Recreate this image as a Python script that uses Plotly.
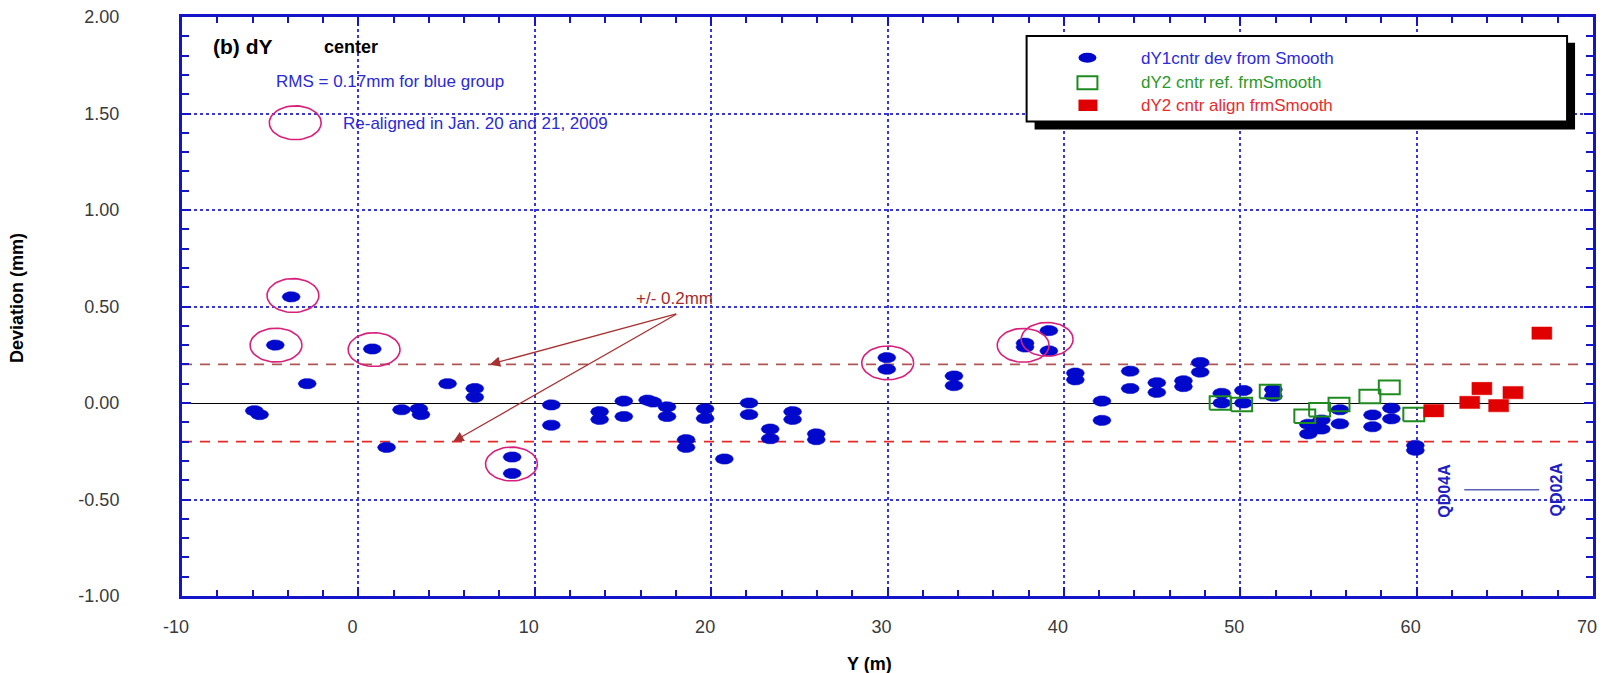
import numpy as np
import plotly.graph_objects as go

# ---------------- data ----------------
# dY1 centre deviation from the smooth curve (blue group)
blue_pos = [-5.9, -5.6, -4.71, -3.81, -2.9, 0.79, 1.6, 2.45, 3.43, 3.55, 5.06,
            6.6, 6.6, 8.72, 8.72, 10.94, 10.94, 13.68, 13.68, 15.05, 15.05,
            16.4, 16.7, 17.5, 17.5, 18.58, 18.58, 19.66, 19.66, 20.75,
            22.15, 22.15, 23.35, 23.35, 24.62, 24.62, 25.96, 25.96,
            29.96, 29.96, 33.77, 33.77, 37.8, 37.8, 39.15, 39.15,
            40.65, 40.65, 42.16, 42.16, 43.76, 43.76, 45.27, 45.27,
            46.78, 46.78, 47.73, 47.73, 48.95, 48.95, 50.18, 50.18,
            51.88, 51.88, 53.86, 53.86, 54.6, 54.6, 55.65, 55.65,
            57.5, 57.5, 58.57, 58.57, 59.93, 59.93]
blue_dev = [-0.04, -0.06, 0.30, 0.55, 0.10, 0.28, -0.23, -0.035, -0.03, -0.06, 0.10,
            0.075, 0.03, -0.28, -0.365, -0.01, -0.115, -0.045, -0.085, 0.01, -0.07,
            0.015, 0.005, -0.02, -0.07, -0.19, -0.23, -0.03, -0.08, -0.29,
            0.0, -0.06, -0.135, -0.185, -0.045, -0.085, -0.16, -0.19,
            0.235, 0.175, 0.14, 0.09, 0.31, 0.29, 0.375, 0.27,
            0.155, 0.12, 0.01, -0.09, 0.165, 0.075, 0.105, 0.055,
            0.115, 0.085, 0.21, 0.16, 0.05, 0.0, 0.065, 0.0,
            0.07, 0.035, -0.11, -0.16, -0.088, -0.135, -0.035, -0.108,
            -0.062, -0.123, -0.027, -0.082, -0.22, -0.245]

# dY2 centre, reference, from smooth
green_pos = [48.86, 50.08, 51.7, 53.66, 54.5, 55.6, 57.35, 58.45, 59.84]
green_dev = [0.0, -0.008, 0.06, -0.069, -0.035, -0.008, 0.034, 0.081, -0.06]

# dY2 centre, aligned, from smooth
red_pos = [60.97, 63.01, 63.7, 64.65, 65.46, 67.1]
red_dev = [-0.04, 0.003, 0.075, -0.014, 0.054, 0.362]

# magnets re-aligned in Jan. 20 and 21, 2009
realigned_pos = [-4.67, -3.71, 0.89, 8.68, 30.01, 37.69, 39.05]
realigned_dev = [0.30, 0.557, 0.277, -0.316, 0.208, 0.299, 0.33]

tolerance = 0.2
x_ticks = [-10, 0, 10, 20, 30, 40, 50, 60, 70]
x_tick_text = [str(v) for v in x_ticks]
y_ticks = [-1.0, -0.5, 0.0, 0.5, 1.0, 1.5, 2.0]
y_tick_text = [f"{v:.2f}" for v in y_ticks]

# ---------------- geometry ----------------
W, H = 1604, 673
L, R, T, B = 182, 7, 14, 77
PW, PH = W - L - R, H - T - B
X_RANGE = (-10, 70)
Y_RANGE = (-1.0, 2.0)
XS = PW / (X_RANGE[1] - X_RANGE[0])   # px per metre
YS = PH / (Y_RANGE[1] - Y_RANGE[0])   # px per mm


def px(xp):
    return (xp - L) / PW


def py(yp):
    return (H - B - yp) / PH


def ellipse_path(xs, ys, rx_px, ry_px, n=40):
    t = np.linspace(0, 2 * np.pi, n)
    ox, oy = [], []
    for x, y in zip(xs, ys):
        ox += list(x + rx_px / XS * np.cos(t)) + [None]
        oy += list(y + ry_px / YS * np.sin(t)) + [None]
    return ox, oy


def rect_path(xs, ys, hw_px, hh_px):
    ox, oy = [], []
    for x, y in zip(xs, ys):
        dx, dy = hw_px / XS, hh_px / YS
        ox += [x - dx, x + dx, x + dx, x - dx, x - dx, None]
        oy += [y - dy, y - dy, y + dy, y + dy, y - dy, None]
    return ox, oy


FONT = 'Arial, "Liberation Sans", sans-serif'
BLUE = "#0008cc"
GREEN = "#1f8a1f"
RED = "#e00000"
TXT_BLUE = "#2a2ad6"
FRAME = "#1414c8"

fig = go.Figure()

bx, by = ellipse_path(blue_pos, blue_dev, 9, 5.2)
fig.add_trace(go.Scatter(x=bx, y=by, mode="lines", fill="toself",
                         fillcolor=BLUE, line=dict(width=0.6, color=BLUE),
                         name="dY1cntr dev from Smooth", hoverinfo="skip"))

gx, gy = rect_path(green_pos, green_dev, 10.5, 6.8)
fig.add_trace(go.Scatter(x=gx, y=gy, mode="lines",
                         line=dict(width=2, color=GREEN),
                         name="dY2 cntr ref. frmSmooth", hoverinfo="skip"))

rx, ry = rect_path(red_pos, red_dev, 10, 6.2)
fig.add_trace(go.Scatter(x=rx, y=ry, mode="lines", fill="toself",
                         fillcolor=RED, line=dict(width=0.5, color=RED),
                         name="dY2 cntr align frmSmooth", hoverinfo="skip"))

# circles marking re-aligned magnets (plus the key circle in the note)
cx, cy = ellipse_path(realigned_pos + [-3.58], realigned_dev + [1.452], 26, 17, n=60)
fig.add_trace(go.Scatter(x=cx, y=cy, mode="lines",
                         line=dict(width=1.6, color="#d8207a"),
                         hoverinfo="skip", showlegend=False))

shapes = [
    # tolerance band
    dict(type="line", xref="paper", x0=0, x1=1, yref="y", y0=tolerance, y1=tolerance,
         line=dict(color="#b05656", width=1.6, dash="10px,8px"), layer="below"),
    dict(type="line", xref="paper", x0=0, x1=1, yref="y", y0=-tolerance, y1=-tolerance,
         line=dict(color="#e62a2a", width=1.6, dash="10px,8px"), layer="below"),
    # quadrupole span marker
    dict(type="line", xref="x", yref="y", x0=62.7, x1=66.95, y0=-0.45, y1=-0.45,
         line=dict(color="#5a62b4", width=1.5)),
    # legend box with drop shadow
    dict(type="rect", xref="paper", yref="paper", x0=px(1037), x1=px(1579),
         y0=py(127), y1=py(40), fillcolor="black", line=dict(width=0), layer="above"),
    dict(type="rect", xref="paper", yref="paper", x0=px(1029), x1=px(1571),
         y0=py(119), y1=py(33), fillcolor="white", line=dict(width=2, color="black"),
         layer="above"),
    dict(type="circle", xref="paper", yref="paper", x0=px(1081), x1=px(1099),
         y0=py(60), y1=py(50), fillcolor=BLUE, line=dict(width=0), layer="above"),
    dict(type="rect", xref="paper", yref="paper", x0=px(1080), x1=px(1100),
         y0=py(86.5), y1=py(73.5), fillcolor="white",
         line=dict(width=2, color=GREEN), layer="above"),
    dict(type="rect", xref="paper", yref="paper", x0=px(1081), x1=px(1100),
         y0=py(108.5), y1=py(97), fillcolor=RED, line=dict(width=0), layer="above"),
]

ann = []


def note(text, x, y, size=17, color=TXT_BLUE, bold=False, xanchor="left", angle=0,
         xref="paper", yref="paper"):
    t = f"<b>{text}</b>" if bold else text
    ann.append(dict(text=t, x=x, y=y, xref=xref, yref=yref, xanchor=xanchor,
                    yanchor="middle", showarrow=False, textangle=angle,
                    font=dict(family=FONT, size=size, color=color)))


note("(b) dY", px(211), py(44), size=21, color="black", bold=True)
note("center", px(322), py(44), size=18, color="black", bold=True)
note("RMS = 0.17mm for blue group", px(274), py(79), size=17)
note("Re-aligned in Jan. 20 and 21, 2009", px(341), py(121), size=17)
note("dY1cntr dev from Smooth", px(1142), py(56), size=17, color="#2b2bdc")
note("dY2 cntr ref. frmSmooth", px(1142), py(80), size=17, color="#2a9a2a")
note("dY2 cntr align frmSmooth", px(1142), py(103), size=17, color="#ec2a2a")
note("+/- 0.2mm", 17.94, 0.54, size=17, color="#a82a2a", xanchor="center",
     xref="x", yref="y")
note("QD04A", 61.6, -0.455, size=16, color="#2020c0", bold=True, xanchor="center",
     angle=-90, xref="x", yref="y")
note("QD02A", 67.9, -0.448, size=16, color="#2020c0", bold=True, xanchor="center",
     angle=-90, xref="x", yref="y")
note("Deviation (mm)", px(16), py(296), size=18, color="black", bold=True,
     xanchor="center", angle=-90)
note("Y (m)", px(871), py(664), size=18, color="black", bold=True, xanchor="center")

# arrows from the tolerance label to both dashed lines
for hx, hy in [(7.45, tolerance), (5.38, -tolerance)]:
    ann.append(dict(x=hx, y=hy, xref="x", yref="y", ax=18.11, ay=0.464,
                    axref="x", ayref="y", text="", showarrow=True, arrowhead=2,
                    arrowsize=1.6, arrowwidth=1.3, arrowcolor="#a83232",
                    standoff=0, startstandoff=0))

axis_common = dict(
    showline=True, linecolor=FRAME, linewidth=3, mirror="allticks",
    ticks="inside", tickcolor=FRAME, tickwidth=2, ticklen=9,
    showgrid=True, gridcolor="#3838d8", gridwidth=1.6, griddash="dot",
    tickfont=dict(family=FONT, size=18, color="#3a3a3a"),
)

fig.update_layout(
    width=W, height=H,
    margin=dict(l=L, r=R, t=T, b=B, pad=0),
    paper_bgcolor="white", plot_bgcolor="white",
    showlegend=False,
    shapes=shapes, annotations=ann,
    xaxis=dict(range=list(X_RANGE), tickvals=x_ticks, ticktext=x_tick_text,
               zeroline=False, ticklabelstandoff=12, ticklabelshift=-6,
               minor=dict(dtick=2, tick0=0, ticks="inside", ticklen=6,
                          tickcolor=FRAME, tickwidth=2, showgrid=False),
               **axis_common),
    yaxis=dict(range=list(Y_RANGE), tickvals=y_ticks, ticktext=y_tick_text,
               zeroline=True, zerolinecolor="black", zerolinewidth=1.2,
               ticklabelstandoff=56,
               minor=dict(dtick=0.1, tick0=0, ticks="inside", ticklen=7,
                          tickcolor=FRAME, tickwidth=2, showgrid=False),
               **axis_common),
)

fig.write_html("out.html")
